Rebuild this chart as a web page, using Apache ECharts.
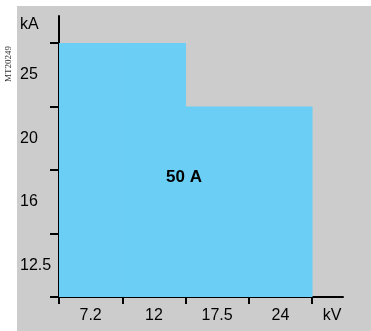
<!DOCTYPE html>
<html>
<head>
<meta charset="utf-8">
<script src="https://cdn.jsdelivr.net/npm/echarts@6/dist/echarts.min.js"></script>
<style>html,body{margin:0;padding:0;background:#fff}#c{width:371px;height:331px}</style>
</head>
<body>
<div id="c"></div>
<script>
// Rated voltage categories (kV)
const voltages = ['7.2', '12', '17.5', '24'];
// Short-circuit current levels on the vertical axis (kA)
const currentLevels = ['12.5', '16', '20', '25'];
// Breaking current rating reached for each voltage (kA)
const ratedCurrent = [25, 25, 20, 20];
const ratingLabel = '50 A';

const FONT = '"Liberation Sans", Arial, sans-serif';
const data = ratedCurrent.map((v, i) => [i, currentLevels.indexOf(String(v)) + 1]);
const bandCenters = currentLevels.map((_, i) => i + 0.5);
const xCenters = voltages.map((_, i) => i + 0.5);

const chart = echarts.init(document.getElementById('c'), null, {renderer: 'canvas'});
chart.setOption({
  animation: false,
  backgroundColor: '#ffffff',
  graphic: [
    {type: 'rect', z: -10, shape: {x: 17, y: 6, width: 354, height: 325}, style: {fill: '#cccccc'}},
    {type: 'text', x: 9, y: 64, rotation: Math.PI / 2, style: {text: 'MT20249', font: '9px "Liberation Serif", serif', fill: '#333', align: 'center', verticalAlign: 'middle'}},
    {type: 'text', x: 20, y: 25, style: {text: 'kA', font: '16px ' + FONT, fill: '#000', align: 'left', verticalAlign: 'middle'}},
    {type: 'text', x: 332, y: 316, style: {text: 'kV', font: '16px ' + FONT, fill: '#000', align: 'center', verticalAlign: 'middle'}},
    {type: 'text', x: 184, y: 177.5, z: 100, style: {text: ratingLabel, font: 'bold 17px ' + FONT, fill: '#000', align: 'center', verticalAlign: 'middle'}}
  ],
  grid: {left: 59, right: 28, top: 16, bottom: 34},
  xAxis: {
    type: 'value', min: 0, max: 4.49,
    splitLine: {show: false},
    axisLine: {show: true, onZero: false, lineStyle: {color: '#000', width: 2}},
    axisTick: {show: true, length: 7, lineStyle: {color: '#000', width: 2}, customValues: [0, 1, 2, 3, 4]},
    axisLabel: {
      customValues: xCenters, margin: 11, color: '#000', fontSize: 16, fontFamily: FONT,
      formatter: v => voltages[Math.floor(v)]
    }
  },
  yAxis: {
    type: 'value', min: 0, max: 4.425,
    splitLine: {show: false},
    axisLine: {show: true, onZero: false, lineStyle: {color: '#000', width: 2}},
    axisTick: {show: true, length: 9, lineStyle: {color: '#000', width: 2}, customValues: [0, 1, 2, 3, 4]},
    axisLabel: {
      customValues: bandCenters, margin: 39, align: 'left', color: '#000', fontSize: 16, fontFamily: FONT,
      formatter: v => currentLevels[Math.floor(v)]
    }
  },
  series: [{
    type: 'custom',
    z: 1,
    data: data,
    renderItem: function (params, api) {
      const i = api.value(0), h = api.value(1);
      const p1 = api.coord([i, h]);
      const p2 = api.coord([i + 1, 0]);
      return {
        type: 'rect',
        shape: {x: p1[0], y: p1[1], width: p2[0] - p1[0] + 0.5, height: p2[1] - p1[1]},
        style: {fill: '#6bcef5'}
      };
    }
  }]
});
</script>
</body>
</html>
